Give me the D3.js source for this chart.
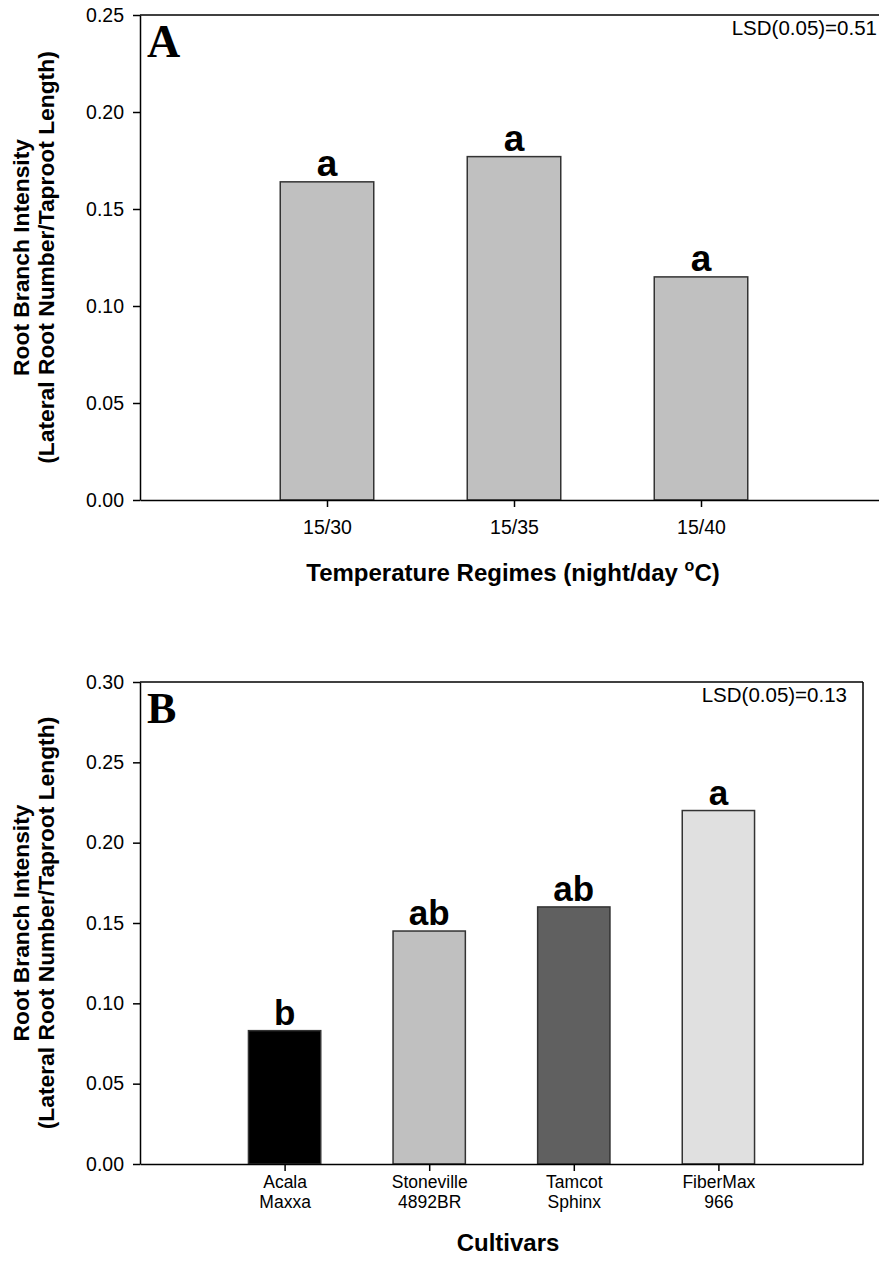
<!DOCTYPE html>
<html lang="en">
<head>
    <meta charset="UTF-8">
    <title>Root Branch Intensity</title>
    <script src="https://d3js.org/d3.v7.min.js"></script>
    <style>
        body { margin: 0; background: #fff; }
        text { font-family: "Liberation Sans", Arial, sans-serif; fill: #000; }
        .tick line, .domain { stroke: #000; stroke-width: 1.5px; }
        .panel-letter { font-family: "Liberation Serif", "Times New Roman", serif; font-weight: bold; }
    </style>
</head>
<body>
<svg width="879" height="1263"></svg>
<script type="text/javascript">

    // panel A data
    var tempRegimes = ["15/30", "15/35", "15/40"];
    var tempValues  = [0.164, 0.177, 0.115];
    var tempLetters = ["a", "a", "a"];
    var tempTicks   = [0, 0.05, 0.10, 0.15, 0.20, 0.25];

    // panel B data
    var cultivarLine1   = ["Acala", "Stoneville", "Tamcot", "FiberMax"];
    var cultivarLine2   = ["Maxxa", "4892BR", "Sphinx", "966"];
    var cultivarValues  = [0.083, 0.145, 0.160, 0.220];
    var cultivarLetters = ["b", "ab", "ab", "a"];
    var cultivarTicks   = [0, 0.05, 0.10, 0.15, 0.20, 0.25, 0.30];

    var yTitle1 = "Root Branch Intensity";
    var yTitle2 = "(Lateral Root Number/Taproot Length)";

    var svg = d3.select("svg");
    var fmt = d3.format(".2f");

    // draws one panel; opts holds layout only
    function drawPanel(opts) {
        var g = svg.append("g");
        var n = opts.values.length;

        var x = d3.scaleLinear().domain([0, n + 1]).range([opts.left, opts.right]);
        var y = d3.scaleLinear().domain([0, opts.ymax]).range([opts.bottom, opts.top]);
        var barW = x(0.5) - x(0);

        // bars
        g.selectAll("rect.bar")
            .data(opts.values)
            .enter().append("rect")
            .attr("class", "bar")
            .attr("x", function(d, i) { return x(i + 1) - barW / 2; })
            .attr("y", function(d) { return y(d); })
            .attr("width", barW)
            .attr("height", function(d) { return y(0) - y(d); })
            .attr("fill", function(d, i) { return opts.fills[i]; })
            .attr("stroke", "#333")
            .attr("stroke-width", 1.5);

        // significance letters
        g.selectAll("text.sig")
            .data(opts.values)
            .enter().append("text")
            .attr("class", "sig")
            .attr("x", function(d, i) { return x(i + 1); })
            .attr("y", function(d) { return y(d) - 6; })
            .attr("text-anchor", "middle")
            .style("font-weight", "bold")
            .style("font-size", opts.sigSize + "px")
            .text(function(d, i) { return opts.letters[i]; });

        // frame lines (top, right)
        g.append("line")
            .attr("x1", x(0)).attr("x2", x(n + 1))
            .attr("y1", y(opts.ymax)).attr("y2", y(opts.ymax))
            .attr("stroke", "#000").attr("stroke-width", 1.5);
        g.append("line")
            .attr("x1", x(n + 1)).attr("x2", x(n + 1))
            .attr("y1", y(opts.ymax)).attr("y2", y(0))
            .attr("stroke", "#000").attr("stroke-width", 1.5);

        // y axis
        g.append("g")
            .attr("transform", "translate(" + opts.left + ",0)")
            .call(d3.axisLeft(y).tickValues(opts.ticks).tickFormat(fmt).tickSize(7).tickSizeOuter(0).tickPadding(9))
            .selectAll("text")
            .style("font-size", "19.5px");

        // x axis
        var xAxis = g.append("g")
            .attr("transform", "translate(0," + opts.bottom + ")")
            .call(d3.axisBottom(x).tickValues(d3.range(1, n + 1)).tickFormat("").tickSize(7).tickSizeOuter(0));

        var lbl = xAxis.selectAll(".tick").append("text")
            .attr("text-anchor", "middle")
            .style("font-size", opts.xTickSize + "px");
        lbl.each(function(d, i) {
            var t = d3.select(this);
            opts.xLabels.forEach(function(lines, k) {
                t.append("tspan")
                    .attr("x", 0)
                    .attr("y", opts.xTickY + k * opts.xTickLine)
                    .text(lines[i]);
            });
        });

        // y title, two rotated lines
        var cy = (opts.top + opts.bottom) / 2;
        [yTitle1, yTitle2].forEach(function(s, k) {
            g.append("text")
                .attr("transform", "translate(" + (29 + k * 25) + "," + cy + ") rotate(-90)")
                .attr("text-anchor", "middle")
                .style("font-weight", "bold")
                .style("font-size", "22.8px")
                .text(s);
        });

        // x title
        var xt = g.append("text")
            .attr("x", opts.xTitleX)
            .attr("y", opts.xTitleY)
            .attr("text-anchor", "middle")
            .style("font-weight", "bold")
            .style("font-size", "24px");
        opts.xTitle(xt);

        // panel letter
        g.append("text")
            .attr("class", "panel-letter")
            .attr("x", opts.left + 7)
            .attr("y", opts.top + opts.letterDy)
            .style("font-size", opts.letterSize + "px")
            .text(opts.panel);

        // LSD note
        g.append("text")
            .attr("x", opts.lsdX)
            .attr("y", opts.top + 20)
            .attr("text-anchor", "end")
            .style("font-size", "20.5px")
            .text(opts.lsd);
    }

    drawPanel({
        values: tempValues, letters: tempLetters, ticks: tempTicks, ymax: 0.25,
        fills: ["#c0c0c0", "#c0c0c0", "#c0c0c0"],
        left: 140, right: 888, top: 15, bottom: 500,
        sigSize: 37,
        xLabels: [tempRegimes], xTickY: 34, xTickLine: 0, xTickSize: 19.5,
        xTitleX: 513, xTitleY: 581,
        xTitle: function(t) {
            t.append("tspan").text("Temperature Regimes (night/day ");
            t.append("tspan").attr("dy", -10).style("font-size", "16px").text("o");
            t.append("tspan").attr("dy", 10).text("C)");
        },
        panel: "A", letterDy: 42, letterSize: 46,
        lsdX: 877, lsd: "LSD(0.05)=0.51"
    });

    drawPanel({
        values: cultivarValues, letters: cultivarLetters, ticks: cultivarTicks, ymax: 0.30,
        fills: ["#000000", "#c0c0c0", "#606060", "#e0e0e0"],
        left: 140, right: 863, top: 682, bottom: 1164,
        sigSize: 35,
        xLabels: [cultivarLine1, cultivarLine2], xTickY: 24, xTickLine: 20, xTickSize: 17.5,
        xTitleX: 508, xTitleY: 1251,
        xTitle: function(t) { t.text("Cultivars"); },
        panel: "B", letterDy: 41, letterSize: 44,
        lsdX: 847, lsd: "LSD(0.05)=0.13"
    });

</script>
</body>
</html>
